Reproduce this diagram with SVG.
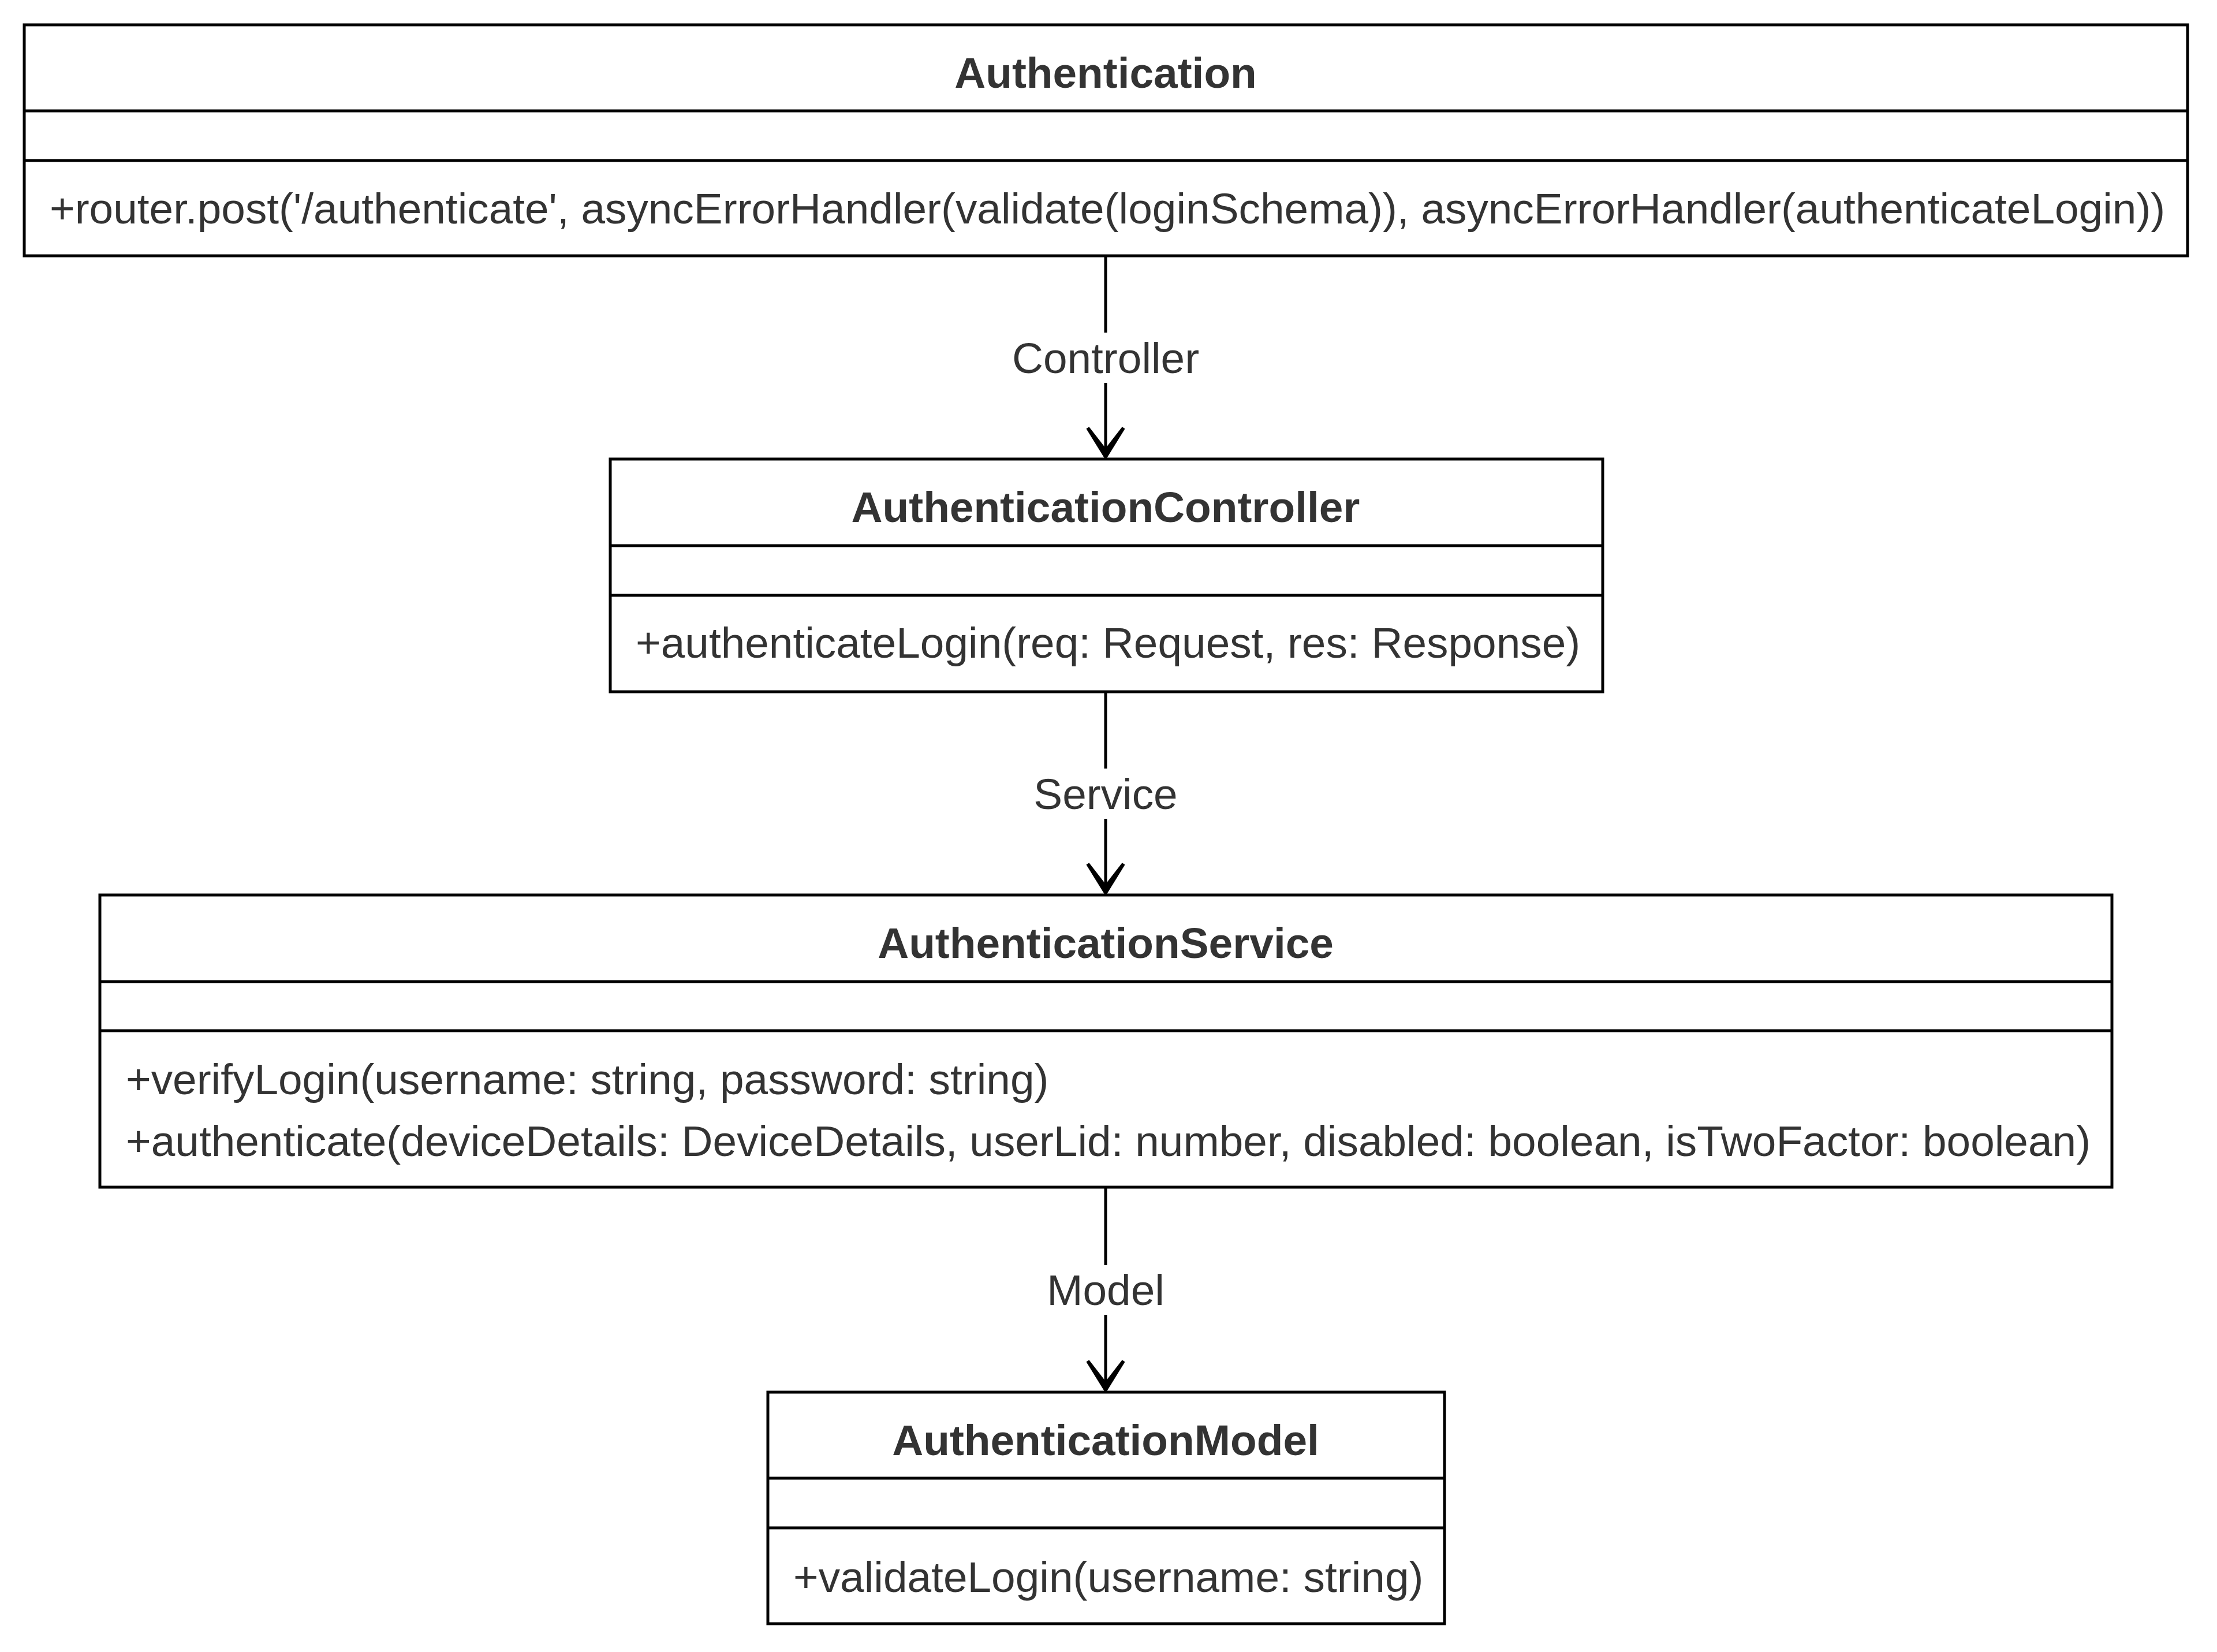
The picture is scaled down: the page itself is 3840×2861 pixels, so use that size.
<svg xmlns="http://www.w3.org/2000/svg" width="3840" height="2861" viewBox="0 0 3840 2861">
<style>
.box{fill:#fff;stroke:#000;stroke-width:5}
.sep{stroke:#000;stroke-width:5}
.t{font-family:"Liberation Sans",Arial,Helvetica,sans-serif;font-size:74.8px;fill:#333}
.h{font-weight:bold;text-anchor:middle}
.lbl{text-anchor:middle}
.edge{fill:none;stroke:#000;stroke-width:5}
.head{fill:#000;stroke:#000;stroke-width:6;stroke-linejoin:miter;stroke-miterlimit:10}
</style>
<rect width="3840" height="2861" fill="#fff"/>
<g id="connectors">
  <path class="edge" d="M1915 443 V576 M1915 663 V790"/>
  <path class="head" d="M1884,741 L1915,791 L1946,741 L1915,781 Z"/>
  <text class="t lbl" x="1915" y="646">Controller</text>
  <path class="edge" d="M1915 1198 V1331 M1915 1418 V1545"/>
  <path class="head" d="M1884,1496 L1915,1546 L1946,1496 L1915,1536 Z"/>
  <text class="t lbl" x="1915" y="1401">Service</text>
  <path class="edge" d="M1915 2056 V2191 M1915 2277 V2406"/>
  <path class="head" d="M1884,2357 L1915,2407 L1946,2357 L1915,2397 Z"/>
  <text class="t lbl" x="1915" y="2260">Model</text>
</g>
<g id="authentication">
  <rect class="box" x="42" y="43" width="3747" height="400"/>
  <line class="sep" x1="42" y1="192" x2="3789" y2="192"/>
  <line class="sep" x1="42" y1="278" x2="3789" y2="278"/>
  <text class="t h" x="1915" y="152">Authentication</text>
  <text class="t" x="86" y="387">+router.post('/authenticate', asyncErrorHandler(validate(loginSchema)), asyncErrorHandler(authenticateLogin))</text>
</g>
<g id="authenticationController">
  <rect class="box" x="1057" y="795" width="1719" height="403"/>
  <line class="sep" x1="1057" y1="945" x2="2776" y2="945"/>
  <line class="sep" x1="1057" y1="1031" x2="2776" y2="1031"/>
  <text class="t h" x="1915" y="904">AuthenticationController</text>
  <text class="t" x="1101" y="1139">+authenticateLogin(req: Request, res: Response)</text>
</g>
<g id="authenticationService">
  <rect class="box" x="173" y="1550" width="3485" height="506"/>
  <line class="sep" x1="173" y1="1700" x2="3658" y2="1700"/>
  <line class="sep" x1="173" y1="1785" x2="3658" y2="1785"/>
  <text class="t h" x="1915" y="1659">AuthenticationService</text>
  <text class="t" x="218" y="1895">+verifyLogin(username: string, password: string)</text>
  <text class="t" x="218" y="2002">+authenticate(deviceDetails: DeviceDetails, userLid: number, disabled: boolean, isTwoFactor: boolean)</text>
</g>
<g id="authenticationModel">
  <rect class="box" x="1330" y="2411" width="1172" height="401"/>
  <line class="sep" x1="1330" y1="2560" x2="2502" y2="2560"/>
  <line class="sep" x1="1330" y1="2646" x2="2502" y2="2646"/>
  <text class="t h" x="1915" y="2520">AuthenticationModel</text>
  <text class="t" x="1374" y="2757">+validateLogin(username: string)</text>
</g>
</svg>
